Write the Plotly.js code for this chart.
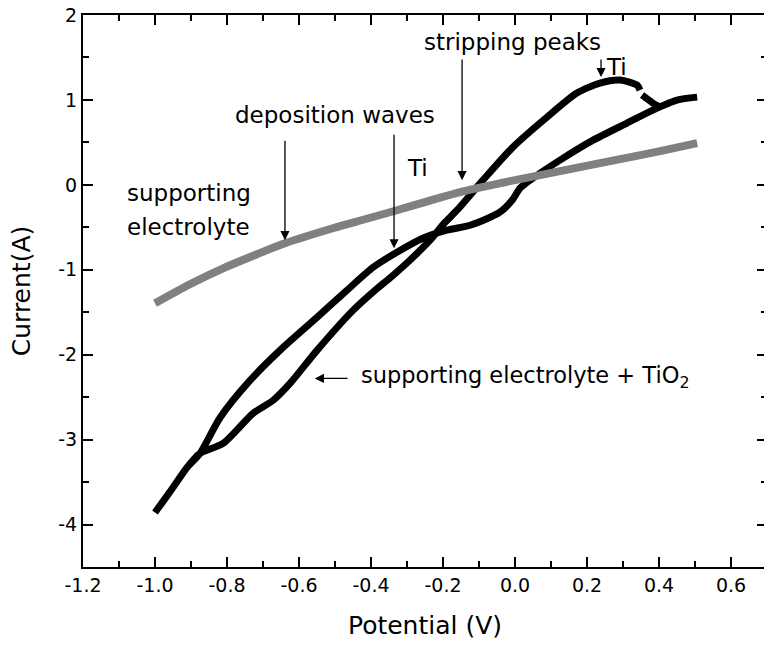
<!DOCTYPE html>
<html>
<head>
<meta charset="utf-8">
<script src="https://cdn.plot.ly/plotly-3.0.1.min.js"></script>
<style>
html, body { margin: 0; padding: 0; overflow: hidden; background: #fff; }
#chart { width: 770px; height: 645px; }
</style>
</head>
<body>
<div id="chart"></div>
<script>
// Supporting electrolyte + TiO2 (black loop; null = gap in the trace)
const blackPotential = [
  0.506, 0.450, 0.383, 0.311, 0.217, 0.125, 0.042, 0.014, -0.008, -0.042, -0.069, -0.125,
  -0.189, -0.256, -0.328, -0.394, -0.467, -0.550, -0.653, -0.736, -0.819, -0.875, -0.911,
  -0.950, -1.000,
  -0.950, -0.911, -0.875, -0.811, -0.728, -0.672, -0.625, -0.550, -0.450, -0.389, -0.342,
  -0.292, -0.236, -0.194, -0.161, -0.089, -0.006, 0.089, 0.172, 0.236, 0.292, 0.339, 0.347,
  null,
  0.353, 0.383, 0.403
];
const blackCurrent = [
  1.033, 0.998, 0.880, 0.727, 0.526, 0.291, 0.055, -0.039, -0.181, -0.322, -0.381, -0.476,
  -0.534, -0.629, -0.794, -0.971, -1.242, -1.560, -1.949, -2.303, -2.739, -3.163, -3.328,
  -3.564, -3.859,
  -3.564, -3.328, -3.163, -3.045, -2.692, -2.538, -2.338, -1.949, -1.478, -1.242, -1.077,
  -0.888, -0.652, -0.440, -0.299, 0.055, 0.444, 0.798, 1.081, 1.198, 1.234, 1.175, 1.116,
  null,
  1.057, 0.963, 0.915
];

// Supporting electrolyte (grey)
const greyPotential = [-1.000, -0.903, -0.811, -0.717, -0.639, -0.506, -0.417, -0.328, -0.236, -0.144, -0.014, 0.125, 0.264, 0.403, 0.506];
const greyCurrent   = [-1.395, -1.171, -0.983, -0.817, -0.688, -0.511, -0.405, -0.299, -0.185, -0.078, 0.043, 0.161, 0.279, 0.397, 0.491];

// Tick labels
const xTickVals = [-1.2, -1.0, -0.8, -0.6, -0.4, -0.2, 0.0, 0.2, 0.4, 0.6];
const xTickText = ['-1.2', '-1.0', '-0.8', '-0.6', '-0.4', '-0.2', '0.0', '0.2', '0.4', '0.6'];
const yTickVals = [2, 1, 0, -1, -2, -3, -4];
const yTickText = ['2', '1', '0', '-1', '-2', '-3', '-4'];

const FONT = 'DejaVu Sans, sans-serif';

const traces = [
  {
    x: blackPotential, y: blackCurrent, mode: 'lines', type: 'scatter',
    line: { color: '#000000', width: 7, shape: 'spline', smoothing: 0.7 }, connectgaps: false,
    name: 'supporting electrolyte + TiO2', hoverinfo: 'x+y'
  },
  {
    x: greyPotential, y: greyCurrent, mode: 'lines', type: 'scatter',
    line: { color: '#808080', width: 8, shape: 'spline', smoothing: 0.8 },
    name: 'supporting electrolyte', hoverinfo: 'x+y'
  }
];

function arrow(hx, hy, tx, ty) {
  return {
    x: hx, y: hy, ax: tx, ay: ty, xref: 'x', yref: 'y', axref: 'x', ayref: 'y',
    text: '', showarrow: true, arrowhead: 2, arrowsize: 1.4, arrowwidth: 1.3,
    arrowcolor: '#000', standoff: 0, startstandoff: 0
  };
}
function label(txt, x, y, anchor, size) {
  return {
    x: x, y: y, xref: 'x', yref: 'y', text: txt, showarrow: false,
    xanchor: anchor, yanchor: 'middle',
    font: { family: FONT, size: size, color: '#000' }
  };
}

const annotations = [
  label('stripping peaks', -0.006, 1.682, 'center', 23),
  arrow(-0.147, 0.055, -0.147, 1.493),
  label('Ti', 0.283, 1.387, 'center', 23),
  arrow(0.239, 1.269, 0.239, 1.493),
  label('deposition waves', -0.500, 0.821, 'center', 23),
  arrow(-0.639, -0.652, -0.639, 0.538),
  arrow(-0.336, -0.747, -0.336, 0.609),
  label('Ti', -0.272, 0.196, 'center', 23),
  label('supporting', -1.083, -0.099, 'left', 23),
  label('electrolyte', -1.083, -0.500, 'left', 23),
  label('supporting electrolyte + TiO<sub>2</sub>', -0.433, -2.267, 'left', 22.5),
  arrow(-0.556, -2.279, -0.461, -2.279)
];

const axisCommon = {
  showline: true, linecolor: '#000', linewidth: 2, mirror: 'allticks',
  ticks: 'inside', ticklen: 10, tickwidth: 2, tickcolor: '#000',
  showgrid: false, zeroline: false, tickmode: 'array',
  tickfont: { family: FONT, size: 19, color: '#000' }
};

const layout = {
  width: 770, height: 645,
  margin: { l: 83, r: 3, t: 15, b: 78 },
  paper_bgcolor: '#fff', plot_bgcolor: '#fff',
  showlegend: false,
  font: { family: FONT, color: '#000' },
  xaxis: Object.assign({}, axisCommon, {
    range: [-1.2, 0.7], tickvals: xTickVals, ticktext: xTickText,
    minor: { tickmode: 'linear', tick0: -1.2, dtick: 0.1, ticks: 'inside', ticklen: 6, tickwidth: 2, tickcolor: '#000' },
    title: { text: 'Potential (V)', font: { family: FONT, size: 25, color: '#000' }, standoff: 22 }
  }),
  yaxis: Object.assign({}, axisCommon, {
    range: [-4.5, 2], tickvals: yTickVals, ticktext: yTickText,
    minor: { tickmode: 'linear', tick0: -4.5, dtick: 0.5, ticks: 'inside', ticklen: 6, tickwidth: 2, tickcolor: '#000' },
    title: { text: 'Current(A)', font: { family: FONT, size: 25, color: '#000' }, standoff: 20 }
  }),
  annotations: annotations
};

Plotly.newPlot('chart', traces, layout, { displayModeBar: false, staticPlot: true });
</script>
</body>
</html>
